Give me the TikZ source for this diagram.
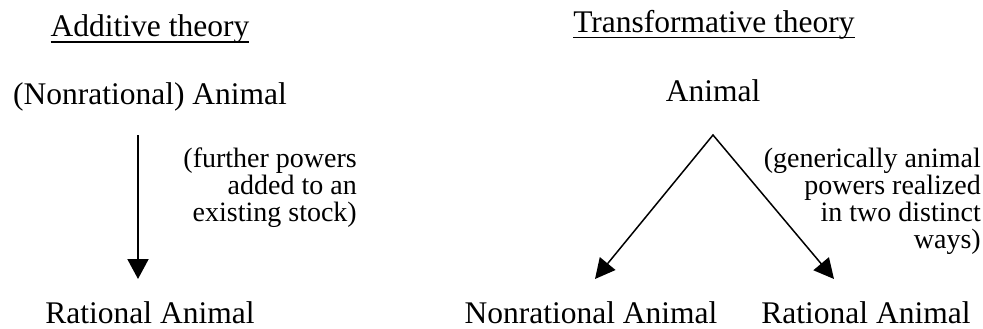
\documentclass[tikz,border=0pt]{standalone}
\usepackage{fontspec}
\setmainfont{Liberation Serif}
\usetikzlibrary{arrows.meta}
\begin{document}
\begin{tikzpicture}[x=1pt,y=-1pt,
  lbl/.style={inner sep=0pt, font=\fontsize{31.5}{38}\selectfont},
  note/.style={inner sep=0pt, align=right, font=\fontsize{28}{27}\selectfont},
  uline/.style={line width=1.2pt},
  varrow/.style={-{Triangle[length=20pt,width=21pt]}, line width=2pt},
  varrows/.style={{Triangle[length=20pt,width=20pt]}-{Triangle[length=20pt,width=20pt]}, line width=1.5pt, line join=miter}]
\useasboundingbox (0,0) rectangle (983,329);

% left column
\node[lbl, anchor=base] (addt) at (150,37) {Additive theory};
\draw[uline] ([yshift=-5pt]addt.base west) -- ([yshift=-5pt]addt.base east);
\node[lbl, anchor=base] (nra) at (150,104) {(Nonrational) Animal};
\node[lbl, anchor=base] (ra) at (150,323) {Rational Animal};
\draw[varrow] ([xshift=-12pt,yshift=-31pt]nra.base) -- ([xshift=-12pt,yshift=44pt]ra.base);
\node[note, anchor=base east] (n1) at (357,221) {(further powers\\added to an\\existing stock)};

% right column
\node[lbl, anchor=base] (trt) at (714,33) {Transformative theory};
\draw[uline] ([yshift=-4.5pt]trt.base west) -- ([yshift=-4.5pt]trt.base east);
\node[lbl, anchor=base] (an) at (713,102) {Animal};
\node[lbl, anchor=base] (nra2) at (591,323) {Nonrational Animal};
\node[lbl, anchor=base] (ra2) at (866,323) {Rational Animal};
\coordinate (apex) at ([yshift=-33pt]an.base);
\coordinate (ltip) at ([xshift=4pt,yshift=44pt]nra2.base);
\coordinate (rtip) at ([xshift=-32pt,yshift=44pt]ra2.base);
\draw[varrows] (ltip) -- (apex) -- (rtip);
\node[note, anchor=base east] (n2) at (981,248) {(generically animal\\powers realized\\in two distinct\\ways)};
\end{tikzpicture}
\end{document}
